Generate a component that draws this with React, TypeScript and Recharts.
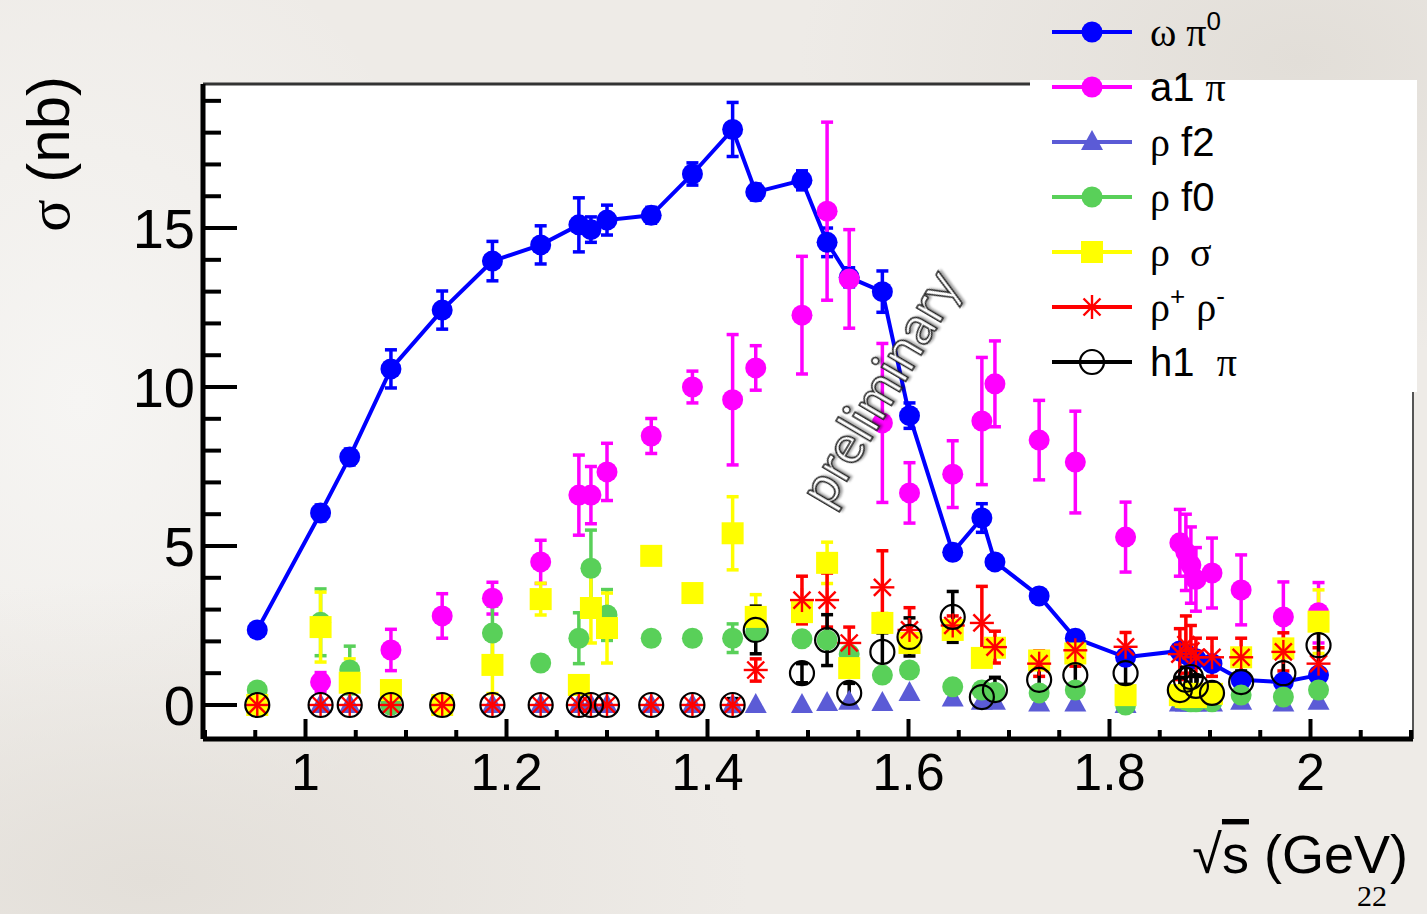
import React from 'react';
import { ScatterChart, Scatter, XAxis, YAxis, ErrorBar, CartesianGrid, ReferenceLine, Label } from 'recharts';

// centre-of-mass energies (GeV), shared by every channel
const energy = [
  0.952, 1.015, 1.044, 1.085, 1.136, 1.186, 1.234, 1.272, 1.284, 1.3, 1.344, 1.385, 1.425,
  1.448, 1.494, 1.519, 1.541, 1.574, 1.601, 1.644, 1.673, 1.686, 1.73, 1.766, 1.816,
  1.87, 1.876, 1.881, 1.886, 1.902, 1.931, 1.973, 2.008,
];

// cross sections in nb, null = no point
const omegaPi = [2.36, 6.04, 7.8, 10.57, 12.42, 13.96, 14.47, 15.1, 14.95, 15.25, 15.4, 16.7, 18.1,
  16.13, 16.5, 14.55, 13.45, 13.0, 9.1, 4.8, 5.88, 4.5, 3.43, 2.1, 1.5, 1.7, 1.6, 1.5, 1.45, 1.3, 0.79, 0.72, 0.94];
const omegaPiErr = [0.2, 0.25, 0.25, 0.6, 0.6, 0.62, 0.6, 0.85, 0.4, 0.47, 0.25, 0.35, 0.85,
  0.25, 0.3, 0.45, 0.3, 0.65, 0.4, 0.2, 0.45, 0.2, 0.2, 0.2, 0.2, 0.2, 0.2, 0.2, 0.2, 0.2, 0.2, 0.2, 0.2];

const a1Pi = [null, 0.72, null, 1.73, 2.8, 3.36, 4.5, 6.6, 6.6, 7.33, 8.46, 10.0, 9.6,
  10.6, 12.26, 15.53, 13.4, 8.87, 6.67, 7.26, 8.93, 10.1, 8.33, 7.64, 5.28, 5.1, 4.8, 4.4, 3.95, 4.15, 3.62, 2.77, 2.9];
const a1PiErr = [0, 0.3, 0, 0.65, 0.7, 0.5, 0.68, 1.26, 0.9, 0.9, 0.55, 0.5, 2.05,
  0.7, 1.85, 2.8, 1.55, 2.5, 0.95, 1.05, 2.0, 1.35, 1.25, 1.6, 1.1, 1.05, 1.2, 1.2, 1.0, 1.1, 1.1, 1.1, 0.95];

const rhoF2 = [0, 0, 0, 0, 0, 0, 0, 0, 0, 0, 0, 0, 0,
  0, 0, 0.06, 0.1, 0.06, 0.38, 0.2, 0.1, 0.1, 0.05, 0.05, 0, 0.05, 0.05, 0.05, 0.05, 0.05, 0.1, 0.05, 0.1];

const rhoF0 = [0.47, 2.6, 1.1, 0, 0, 2.26, 1.32, 2.1, 4.3, 2.83, 2.1, 2.1, 2.1,
  2.3, 2.08, 2.04, 1.6, 0.94, 1.1, 0.57, 0.47, 0.4, 0.38, 0.47, 0, 0.2, 0.15, 0.1, 0.1, 0.1, 0.31, 0.25, 0.47];
const rhoF0Err = [0, 1.05, 0.75, 0, 0, 0.85, 0, 0.8, 1.2, 0.8, 0, 0, 0.45,
  0, 0, 0, 0, 0, 0, 0, 0, 0, 0, 0, 0, 0, 0, 0, 0, 0, 0, 0, 0];

const rhoSigma = [0, 2.45, 0.7, 0.47, 0, 1.26, 3.33, 0.63, 3.05, 2.42, 4.69, 3.52, 5.4,
  2.77, 2.92, 4.47, 1.16, 2.58, 1.95, 2.36, 1.48, 1.8, 1.4, 1.62, 0.31, 0.31, 0.25, 0.35, 0.25, 0.35, 1.5, 1.78, 2.62];
const rhoSigmaErr = [0, 1.1, 0.75, 0, 0, 0.9, 0.5, 0, 1.1, 1.1, 0, 0, 1.15,
  0.7, 0.2, 0.65, 0.2, 0.3, 0.3, 0.3, 0.2, 0.2, 0.2, 0.2, 0.1, 0.1, 0.1, 0.1, 0.1, 0.1, 0.2, 0.2, 1.0];

const rhoRho = [0, 0, 0, 0, 0, 0, 0, 0, 0, 0, 0, 0, 0,
  1.1, 3.3, 3.3, 1.95, 3.7, 2.36, 2.5, 2.58, 1.82, 1.3, 1.72, 1.83, 1.6, 1.9, 1.7, 1.5, 1.5, 1.5, 1.67, 1.3];
const rhoRhoErr = [0, 0, 0, 0, 0, 0, 0, 0, 0, 0, 0, 0, 0,
  0.35, 0.75, 0.85, 0.5, 1.15, 0.7, 0.3, 1.15, 0.5, 0.4, 0.5, 0.45, 0.8, 0.9, 0.8, 0.6, 0.6, 0.6, 0.6, 0.5];

const h1Pi = [0, 0, 0, 0, 0, 0, 0, 0, 0, 0, 0, 0, 0,
  2.36, 1.0, 2.04, 0.38, 1.67, 2.14, 2.77, 0.25, 0.47, 0.79, 0.94, 1.0, 0.47, 0.79, 0.88, 0.6, 0.38, 0.72, 1.0, 1.88];
const h1PiErr = [0, 0, 0, 0, 0, 0, 0, 0, 0, 0, 0, 0, 0.2,
  0.75, 0.3, 0.8, 0.3, 0.6, 0.6, 0.8, 0.3, 0.4, 0.5, 0.5, 0.35, 0.4, 0.4, 0.4, 0.3, 0.3, 0.35, 0.5, 0.8];

// axis ticks
const xTickValues = [0.9, 0.95, 1, 1.05, 1.1, 1.15, 1.2, 1.25, 1.3, 1.35, 1.4, 1.45, 1.5, 1.55, 1.6,
  1.65, 1.7, 1.75, 1.8, 1.85, 1.9, 1.95, 2, 2.05, 2.1];
const xTickLabels = ['1', '1.2', '1.4', '1.6', '1.8', '2'];
const yTickValues = [0, 1, 2, 3, 4, 5, 6, 7, 8, 9, 10, 11, 12, 13, 14, 15, 16, 17, 18, 19];
const yTickLabels = ['0', '5', '10', '15'];

const SANS = '"Liberation Sans", Arial, sans-serif';
const GREEK = '"Liberation Serif", "DejaVu Serif", serif';

const toPoints = (vals: (number | null)[], errs?: number[]) =>
  energy
    .map((x, i) => ({ x, y: vals[i], err: errs ? errs[i] : 0 }))
    .filter((p) => p.y !== null);

// marker shapes
const dot = (color: string) => (p: any) => <circle cx={p.cx} cy={p.cy} r={10.5} fill={color} />;
const square = (color: string) => (p: any) => (
  <rect x={p.cx - 11} y={p.cy - 11} width={22} height={22} fill={color} />
);
const triangle = (color: string) => (p: any) => (
  <polygon points={`${p.cx},${p.cy - 12} ${p.cx - 11},${p.cy + 8} ${p.cx + 11},${p.cy + 8}`} fill={color} />
);
const star = (color: string) => (p: any) => (
  <g stroke={color} strokeWidth={2.4}>
    {[0, 45, 90, 135].map((a) => {
      const r = 12;
      const dx = r * Math.cos((a * Math.PI) / 180);
      const dy = r * Math.sin((a * Math.PI) / 180);
      return <line key={a} x1={p.cx - dx} y1={p.cy - dy} x2={p.cx + dx} y2={p.cy + dy} />;
    })}
  </g>
);
const ring = (color: string) => (p: any) => (
  <circle cx={p.cx} cy={p.cy} r={12} fill="none" stroke={color} strokeWidth={2.2} />
);

const series = [
  { key: 'omega', color: '#0000ff', data: toPoints(omegaPi, omegaPiErr), shape: dot('#0000ff'), line: true },
  { key: 'a1', color: '#ff00ff', data: toPoints(a1Pi, a1PiErr), shape: dot('#ff00ff') },
  { key: 'f2', color: '#5b5bd6', data: toPoints(rhoF2), shape: triangle('#5b5bd6') },
  { key: 'f0', color: '#59d059', data: toPoints(rhoF0, rhoF0Err), shape: dot('#59d059') },
  { key: 'sigma', color: '#ffff00', data: toPoints(rhoSigma, rhoSigmaErr), shape: square('#ffff00') },
  { key: 'rhorho', color: '#ff0000', data: toPoints(rhoRho, rhoRhoErr), shape: star('#ff0000') },
  { key: 'h1', color: '#000000', data: toPoints(h1Pi, h1PiErr), shape: ring('#000000') },
];

const legendNames: React.ReactNode[] = [
  <><tspan fontFamily={GREEK}>ω π</tspan><tspan dy={-16} fontSize={26}>0</tspan></>,
  <>a1 <tspan fontFamily={GREEK}>π</tspan></>,
  <><tspan fontFamily={GREEK}>ρ</tspan> f2</>,
  <><tspan fontFamily={GREEK}>ρ</tspan> f0</>,
  <tspan fontFamily={GREEK} style={{ whiteSpace: 'pre' }}>ρ  σ</tspan>,
  <><tspan fontFamily={GREEK}>ρ</tspan><tspan dy={-16} fontSize={26}>+</tspan><tspan dy={16}> </tspan>
    <tspan fontFamily={GREEK}>ρ</tspan><tspan dy={-16} fontSize={26}>-</tspan></>,
  <tspan style={{ whiteSpace: 'pre' }}>h1  <tspan fontFamily={GREEK}>π</tspan></tspan>,
];

const XTick = (props: any) => {
  const { x, y, payload } = props;
  const v = payload.value;
  const idx = xTickLabels.findIndex((t) => Math.abs(parseFloat(t) - v) < 1e-6);
  const major = idx >= 0;
  return (
    <g>
      <line x1={x} y1={y} x2={x} y2={y - (major ? 20 : 9)} stroke="#000" strokeWidth={4} />
      {major && (
        <text x={x} y={y + 51} textAnchor="middle" fontSize={52} fontFamily={SANS} fill="#000">
          {xTickLabels[idx]}
        </text>
      )}
    </g>
  );
};

const YTick = (props: any) => {
  const { x, y, payload } = props;
  const v = payload.value;
  const idx = yTickLabels.findIndex((t) => parseFloat(t) === v);
  const major = idx >= 0;
  return (
    <g>
      <line x1={x} y1={y} x2={x + (major ? 34 : 18)} y2={y} stroke="#000" strokeWidth={4} />
      {major && (
        <text x={x - 8} y={y + 20} textAnchor="end" fontSize={56} fontFamily={SANS} fill="#000">
          {yTickLabels[idx]}
        </text>
      )}
    </g>
  );
};

const XTitle = (props: any) => {
  const { x, width, y } = props.viewBox;
  return (
    <text x={x + width - 5} y={y + 134} textAnchor="end" fontSize={54} fontFamily={SANS} fill="#000">
      √<tspan style={{ textDecoration: 'overline' }}>s</tspan> (GeV)
    </text>
  );
};

const YTitle = (props: any) => {
  const { x, y } = props.viewBox;
  const tx = x + 66;
  const ty = y - 8;
  return (
    <text x={tx} y={ty} transform={`rotate(-90 ${tx} ${ty})`} textAnchor="end" fontSize={60} fontFamily={SANS} fill="#000">
      <tspan fontFamily={GREEK}>σ</tspan> (nb)
    </text>
  );
};

const Legend = () => (
  <div style={{ position: 'absolute', left: 1030, top: 0, width: 390, height: 392 }}>
    <div style={{ position: 'absolute', left: 0, top: 80, width: 387, height: 312, background: '#fff' }} />
    <svg width={390} height={392} style={{ position: 'absolute', left: 0, top: 0 }}>
      {series.map((s, i) => {
        const cy = 32 + i * 55;
        return (
          <g key={s.key}>
            <line x1={22} x2={102} y1={cy} y2={cy} stroke={s.color} strokeWidth={4} />
            {s.shape({ cx: 62, cy })}
            <text x={120} y={cy + 14} fontSize={40} fontFamily={SANS} fill="#000">
              {legendNames[i]}
            </text>
          </g>
        );
      })}
    </svg>
  </div>
);

export default function App() {
  return (
    <div
      style={{
        position: 'absolute',
        left: 0,
        top: 0,
        width: 1427,
        height: 914,
        overflow: 'hidden',
        background:
          'radial-gradient(ellipse 500px 300px at 1300px 60px, #e2ded8 0%, rgba(226,222,216,0) 100%),' +
          'radial-gradient(ellipse 600px 300px at 150px 880px, #e3dfd9 0%, rgba(227,223,217,0) 100%),' +
          'radial-gradient(ellipse 400px 500px at 80px 400px, #f6f5f3 0%, rgba(246,245,243,0) 100%),' +
          '#eeebe7',
      }}
    >
      <ScatterChart width={1427} height={914} margin={{ top: 84, right: 14, bottom: 75, left: 3 }}>
        <CartesianGrid fill="#ffffff" stroke="none" horizontal={false} vertical={false} />
        <XAxis
          type="number"
          dataKey="x"
          domain={[0.898, 2.102]}
          ticks={xTickValues}
          allowDataOverflow
          height={100}
          tickSize={0}
          tickMargin={0}
          tickLine={false}
          tick={<XTick />}
          interval={0}
          axisLine={{ stroke: '#000', strokeWidth: 5 }}
        >
          <Label content={<XTitle />} />
        </XAxis>
        <YAxis
          type="number"
          dataKey="y"
          domain={[-1.07, 19.53]}
          ticks={yTickValues}
          allowDataOverflow
          width={200}
          tickSize={0}
          tickMargin={0}
          tickLine={false}
          tick={<YTick />}
          interval={0}
          axisLine={{ stroke: '#000', strokeWidth: 5 }}
        >
          <Label content={<YTitle />} />
        </YAxis>
        <ReferenceLine y={19.53} stroke="#333" strokeWidth={3} />
        <ReferenceLine x={2.102} stroke="#555" strokeWidth={2} />
        {series.map((s) => (
          <Scatter
            key={s.key}
            data={s.data}
            fill={s.color}
            shape={s.shape}
            line={s.line ? { stroke: s.color, strokeWidth: 4 } : false}
            isAnimationActive={false}
          >
            <ErrorBar dataKey="err" direction="y" width={6} stroke={s.color} strokeWidth={3.5} />
          </Scatter>
        ))}
      </ScatterChart>
      <Legend />
      <svg width={1427} height={914} style={{ position: 'absolute', left: 0, top: 0, pointerEvents: 'none' }}>
        <text
          x={878}
          y={387}
          transform="rotate(-59.5 878 387)"
          textAnchor="middle"
          dominantBaseline="central"
          fontSize={54}
          fontFamily="Lato, 'Open Sans', sans-serif"
          fill="#fff"
          stroke="#222"
          strokeWidth={1.5}
          textLength={262}
          lengthAdjust="spacingAndGlyphs"
          style={{ filter: 'drop-shadow(2px 2px 1px rgba(0,0,0,0.35))' }}
        >
          preliminary
        </text>
        <text x={1372} y={906} textAnchor="middle" fontSize={30} fontFamily="'Liberation Serif', serif" fill="#000">
          22
        </text>
      </svg>
    </div>
  );
}
